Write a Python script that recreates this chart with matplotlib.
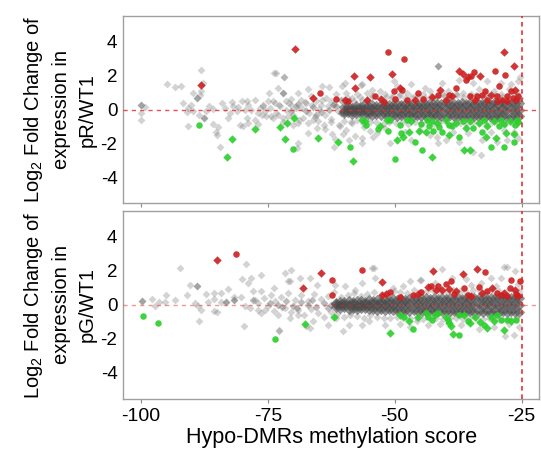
import numpy as np
import matplotlib
matplotlib.use("Agg")
import matplotlib.pyplot as plt

plt.rcParams['font.family'] = ['Liberation Sans', 'DejaVu Sans']
plt.rcParams['mathtext.fontset'] = 'custom'
plt.rcParams['mathtext.rm'] = 'Liberation Sans'
plt.rcParams['mathtext.it'] = 'Liberation Sans'
plt.rcParams['axes.unicode_minus'] = False

# ---------------- data ----------------
x_ticks = [-100, -75, -50, -25]
y_ticks = [4, 2, 0, -2, -4]
x_label = "Hypo-DMRs methylation score"
y_labels = ["Log$_2$ Fold Change of\nexpression in\npR/WT1",
            "Log$_2$ Fold Change of\nexpression in\npG/WT1"]
threshold_x = -25

# ---- panel 1 (pR/WT1) ----
p1_gray = [(-99.9,0.29),(-99.9,-0.2),(-100,-0.6),(-99.1,0.16),(-94.8,1.53),(-93.2,1.33),(-92.0,1.37),
 (-88.1,2.33),(-87.7,1.55),(-89.7,0.96),(-89.0,0.67),(-88.4,0.86),(-88.1,1.12),(-91.7,0.41),(-90.7,0.1),
 (-90.2,0.29),(-89.7,-0.1),(-91.0,-0.16),(-87.5,-0.49),(-90.7,-0.94),(-85.7,0.06),(-84.1,0.37),(-85.7,-0.86),
 (-84.8,-1.0),(-85.1,-1.31),(-84.9,-1.47),(-84.4,-2.2),(-82.4,-0.2),(-82.1,0.43),(-82.8,-0.49),(-81.1,-0.1),
 (-80.1,0.49),(-79.1,0.49),(-79.5,0.0),(-79.0,-0.49),(-80.5,-0.88),(-79.8,-0.98),(-78.3,0.0),(-77.5,0.59),
 (-88.6,-0.3),(-87.2,-0.05),(-86.5,0.2),(-83.5,0.1),(-81.8,0.2),(-80.8,0.15),(-78.8,0.3),(-77.0,-0.2),
 (-76.5,0.1),(-76.0,0.3),(-75.5,-0.1),(-75.0,0.5),(-77.0,-0.86),(-74.3,-0.35),(-76.1,-0.3),(-78.9,-0.79),
 (-77.5,-0.59),(-73.7,2.16),(-71.8,1.92),(-74.7,0.96),(-72.0,0.96),(-72.9,1.25),(-69.0,0.96),(-67.1,1.2),
 (-64.4,1.37),(-63.0,1.33),(-60.3,1.41),(-56.6,1.47),(-54.5,1.18),(-70.4,0.61),(-73.4,2.18),(-71.9,1.94),
 (-73.5,0.4),(-72.5,0.2),(-71.5,0.5),(-70.5,0.3),(-69.5,0.1),(-68.5,0.6),(-67.5,0.4),(-66.5,0.8),(-65.5,0.5),
 (-64.5,0.3),(-63.5,0.7),(-62.5,0.5),(-61.5,0.9),(-60.5,0.6),(-59.5,1.0),(-58.5,0.7),(-57.5,0.9),(-56.5,0.6),
 (-55.5,1.0),(-54.5,0.8),(-74.0,-0.5),(-73.0,-0.3),(-72.0,-0.7),(-71.0,-0.4),(-70.0,-0.9),(-69.0,-0.76),
 (-68.0,-0.5),(-67.0,-0.8),(-66.0,-0.6),(-65.1,-0.67),(-64.0,-0.9),(-63.8,-1.16),(-62.5,-0.7),(-61.8,-1.75),
 (-61.0,-0.9),(-60.1,-1.45),(-60.8,-0.96),(-59.5,-1.2),(-58.5,-0.8),(-57.8,-1.55),(-56.5,-1.67),(-56.0,-1.0),
 (-54.9,-1.24),(-62.4,-1.45),(-69.0,-1.94),(-67.1,-1.35),(-65.4,-1.06),(-69.3,-2.28),(-62.0,-2.18),
 (-59.1,-1.78),(-56.4,-1.98),(-50.9,-1.98),(-53.5,-1.4),(-52.0,-1.1),(-59.8,1.58),(-56.4,1.49),(-53.0,1.09),
 (-50.2,1.68),(-49.6,1.39),(-46.8,1.49),(-44.1,1.29),(-40.7,1.58),(-37.3,1.78),(-34.6,1.58),(-31.8,1.68),
 (-29.1,1.58),(-27.1,1.49),(-25.7,1.68),(-41.4,2.57),(-25.3,1.9),(-52.0,0.9),(-50.5,0.8),(-49.0,0.9),
 (-47.5,1.0),(-46.0,0.8),(-44.5,0.9),(-43.0,1.1),(-42.0,0.7),(-40.5,0.9),(-39.5,1.1),(-38.0,0.9),(-36.5,1.0),
 (-35.0,0.9),(-33.5,1.2),(-32.0,0.9),(-30.5,1.1),(-29.0,0.9),(-27.5,1.2),(-26.0,1.0),(-54.3,-1.58),
 (-46.8,-1.78),(-41.7,-1.58),(-40.0,-1.78),(-37.3,-1.88),(-32.9,-1.78),(-29.8,-1.88),(-27.8,-1.78),
 (-25.7,-1.68),(-41.4,-1.98),(-34.6,-2.48),(-33.1,-2.67),(-48.0,-1.3),(-45.0,-1.2),(-43.0,-1.5),(-38.5,-1.3),
 (-35.5,-1.4),(-31.0,-1.3),(-28.5,-1.2),(-26.5,-1.3),
 (-76,0.2),(-75.3,-0.4),(-74.6,0.1),(-74,0.5),(-73.3,-0.2),(-72.7,0.3),(-72,-0.5),(-71.4,0.0),(-70.8,0.4),
 (-70.1,-0.3),(-69.5,0.2),(-68.8,-0.6),(-68.2,0.1),(-67.6,0.45),(-66.9,-0.2),(-66.3,0.3),(-65.7,-0.45),
 (-65,0.05),(-64.4,0.55),(-63.8,-0.3),(-63.1,0.2),(-62.5,-0.55),(-61.9,0.35),(-61.2,-0.1),(-60.6,0.6),
 (-60,-0.65),(-59.3,0.7),(-58.7,-0.7),(-58.1,0.5),(-57.4,-0.6),(-56.8,0.75),(-56.2,-0.8),(-55.5,0.6),
 (-54.9,-0.7),(-54.3,0.8),(-53.6,-0.75),(-53,0.65),(-52.4,-0.85),(-51.7,0.75),(-51.1,-0.7),(-50.5,0.7),
 (-49.8,-0.8),(-49.2,0.8),(-48.6,-0.75),(-47.9,0.7),(-47.3,-0.85),(-46.7,0.75),(-46,-0.7),(-45.4,0.8),
 (-44.8,-0.8),(-44.1,0.7),(-43.5,-0.75),(-42.9,0.8),(-42.2,-0.85),(-41.6,0.75),(-41,-0.7),(-40.3,0.8),
 (-39.7,-0.8),(-39.1,0.7),(-38.4,-0.75),(-37.8,0.85),(-37.2,-0.8),(-36.5,0.75),(-35.9,-0.85),(-35.3,0.8),
 (-34.6,-0.75),(-34,0.85),(-33.4,-0.8),(-32.7,0.75),(-32.1,-0.85),(-31.5,0.8),(-30.8,-0.75),(-30.2,0.85),
 (-29.6,-0.8),(-28.9,0.75),(-28.3,-0.85),(-27.7,0.8),(-27,-0.8),(-26.4,0.85),(-25.8,-0.75),(-25.3,0.7)]
p1_midgray = [(-99.9,0.29),(-87.5,-0.49),(-89.0,0.67),(-72.0,0.96),(-70.5,-0.05),(-69,0.35),(-67.5,-0.1),
 (-66,0.15),(-64.5,-0.15),(-63,0.0),(-61.5,0.2),(-60.5,-0.2),(-65.5,-0.3),(-62.2,0.3),(-41.4,2.57)]
p1_core_x = [-60.0,-59.2,-58.4,-57.6,-56.8,-56.0,-55.2,-54.4,-53.6,-52.8,-52.0,-51.2,-50.4,-49.6,-48.8,
 -48.0,-47.2,-46.4,-45.6,-44.8,-44.0,-43.2,-42.4,-41.6,-40.8,-40.0,-39.2,-38.4,-37.6,-36.8,-36.0,-35.2,
 -34.4,-33.6,-32.8,-32.0,-31.2,-30.4,-29.6,-28.8,-28.0,-27.2,-26.4,-25.6]
p1_core_top = [0.15,0.2,0.12,0.22,0.18,0.25,0.2,0.28,0.22,0.3,0.25,0.3,0.27,0.33,0.28,0.32,0.3,0.35,0.3,
 0.34,0.32,0.36,0.31,0.35,0.33,0.37,0.32,0.36,0.34,0.38,0.33,0.37,0.35,0.38,0.34,0.38,0.36,0.39,0.35,0.38,
 0.36,0.4,0.37,0.38]
p1_core_mid = [-0.05,0.02,-0.08,0.05,-0.02,0.03,-0.06,0.04,-0.03,0.06,-0.04,0.02,0.05,-0.05,0.03,-0.02,
 0.04,-0.06,0.02,0.05,-0.03,0.04,-0.05,0.03,0.0,0.05,-0.04,0.02,-0.02,0.04,-0.03,0.05,0.0,-0.04,0.03,0.01,
 -0.02,0.04,-0.05,0.02,0.0,0.03,-0.02,0.01]
p1_core_bot = [-0.2,-0.15,-0.25,-0.18,-0.22,-0.28,-0.24,-0.3,-0.26,-0.32,-0.28,-0.33,-0.3,-0.35,-0.31,
 -0.34,-0.33,-0.37,-0.32,-0.36,-0.34,-0.38,-0.33,-0.37,-0.35,-0.39,-0.34,-0.37,-0.36,-0.4,-0.35,-0.38,
 -0.37,-0.4,-0.36,-0.39,-0.38,-0.41,-0.37,-0.4,-0.38,-0.42,-0.39,-0.4]
p1_red_dia = [(-88.2,1.47),(-69.7,3.57),(-66.0,0.67),(-59.8,0.59),(-58.0,2.0),(-57.9,1.29),(-55.5,0.59),
 (-54.9,1.92),(-52.7,0.65),(-50.6,2.12),(-48.9,1.27),(-46.1,0.59),(-42.7,0.75),(-41.0,1.18),(-38.7,0.78),
 (-37.3,2.31),(-36.6,2.12),(-35.6,1.92),(-33.2,1.96),(-31.1,0.88),(-28.4,3.43),(-26.6,2.59),(-26.4,1.14),
 (-34.2,0.59),(-29.8,0.49),(-27.8,0.49),(-40.0,0.59)]
p1_red_circ = [(-64.7,0.98),(-61.5,0.65),(-59.2,0.5),(-53.8,0.78),(-52.1,0.45),(-51.3,3.43),(-49.9,0.65),
 (-50.1,1.08),(-48.5,1.14),(-48.2,2.98),(-47.5,0.59),(-45.5,0.98),(-44.4,0.65),(-41.4,0.88),(-39.3,0.88),
 (-38.0,1.27),(-35.9,1.76),(-34.9,2.0),(-34.4,2.25),(-33.9,0.78),(-32.2,1.08),(-30.3,2.31),(-29.4,1.37),
 (-28.3,2.06),(-27.1,1.08),(-35.2,0.78),(-32.9,0.88),(-29.8,0.78),(-28.8,0.59),(-27.8,0.78),(-25.7,0.78),
 (-26.1,0.59),(-31.8,0.59),(-26.8,0.69)]
p1_green_dia = [(-82.1,-1.74),(-83.0,-2.77),(-77.6,-1.13),(-72.5,-1.03),(-71.2,-0.77),(-71.7,-1.74),
 (-69.9,-0.51),(-65.2,-1.68),(-61.1,-1.9),(-58.3,-3.05),(-56.4,-0.59),(-55.8,-0.69),(-53.0,-0.95),
 (-51.6,-0.59),(-49.6,-1.78),(-48.3,-1.58),(-47.2,-1.31),(-45.3,-1.23),(-43.9,-1.29),(-42.6,-2.77),
 (-41.7,-0.79),(-39.3,-1.49),(-38.0,-0.79),(-36.3,-2.38),(-35.1,-2.38),(-33.5,-0.79),(-32.0,-1.58),
 (-30.1,-1.68),(-28.0,-1.39),(-26.6,-1.45),(-25.7,-0.75),(-46.8,-0.69),(-40.0,-0.63),(-35.2,-0.69),
 (-30.4,-0.69),(-27.4,-0.69),(-31.8,-0.99),(-35.9,-1.09)]
p1_green_circ = [(-88.5,-0.91),(-70.0,-2.34),(-58.8,-2.18),(-55.6,-0.89),(-53.3,-1.15),(-51.3,-1.23),
 (-50.0,-2.93),(-49.0,-0.91),(-48.7,-1.35),(-47.6,-0.59),(-46.1,-1.88),(-44.8,-0.83),(-44.6,-2.38),
 (-43.6,-0.59),(-42.5,-1.23),(-40.7,-1.29),(-38.7,-0.99),(-37.3,-1.58),(-34.6,-1.09),(-32.9,-1.29),
 (-31.1,-2.18),(-29.4,-0.99),(-28.4,-2.18),(-26.5,-1.88),(-26.3,-0.89),(-50.9,-0.6),(-42.7,-0.69),
 (-36.6,-0.69),(-32.5,-0.63),(-29.1,-0.63),(-26.0,-0.59),(-39.3,-0.89),(-41.3,-1.03),(-43.2,-0.99),
 (-28.4,-0.83)]

# ---- panel 2 (pG/WT1) ----
p2_gray = [(-99.8,0.24),(-97.8,0.35),(-97.2,-0.1),(-96.5,0.16),(-95.0,0.55),(-95.2,0.16),(-93.2,0.29),
 (-92.3,2.17),(-91.0,0.55),(-90.4,1.14),(-88.9,1.08),(-89.3,0.1),(-88.8,-0.1),(-88.1,-0.29),(-88.6,-0.98),
 (-87.1,0.63),(-86.8,0.16),(-85.6,0.69),(-85.5,0.35),(-85.5,-0.35),(-84.9,-0.43),(-84.2,0.69),(-84.2,0.16),
 (-83.2,0.16),(-82.9,0.94),(-81.6,0.43),(-81.6,0.29),(-80.2,0.43),(-79.7,-1.27),(-79.2,2.41),(-80.1,1.49),
 (-78.9,1.29),(-78.4,1.57),(-77.9,0.78),(-79.5,-0.1),(-78.5,-0.2),(-77.5,0.3),(-70.4,2.02),(-76.3,1.76),
 (-72.8,-1.47),(-71.7,1.86),(-71.0,1.4),(-68.7,1.57),(-66.7,1.57),(-67.4,-1.27),(-70.7,1.37),(-65.4,1.18),
 (-61.8,1.18),(-59.8,1.08),(-57.8,0.88),(-56.5,1.27),(-54.5,2.16),(-53.9,1.57),(-76.3,0.78),(-73.7,0.98),
 (-77.0,-0.29),(-75.5,-0.3),(-73.7,-0.39),(-72.8,-1.53),(-70.7,-0.78),(-69.0,-0.59),(-66.7,-1.37),
 (-63.1,-1.18),(-60.1,-1.53),(-59.1,-1.18),(-56.5,-1.18),(-55.0,-0.98),(-58.9,-0.59),(-61.5,-0.78),
 (-66.1,-0.98),(-40.7,2.12),(-38.7,1.57),(-36.0,1.53),(-31.1,1.57),(-27.9,2.2),(-26.4,1.96),(-29.1,1.57),
 (-47.0,1.37),(-45.0,1.47),(-48.3,1.08),(-50.3,0.98),(-35.0,1.18),(-26.5,-1.76),(-45.6,-0.98),(-28.4,2.23),
 (-44.8,1.48),(-54.0,2.17),(-28.3,-1.83),(-42.0,1.3),(-33.0,1.3),(-30.0,1.1),(-25.8,1.2),(-52.0,-1.2),
 (-49.0,-1.1),(-47.0,-1.3),(-43.5,-1.2),(-41.0,-1.1),(-37.0,-1.2),(-33.5,-1.4),(-30.5,-1.3),(-27.5,-1.1),
 (-25.5,-1.3),
 (-77,0.1),(-76.3,-0.5),(-75.7,0.4),(-75,-0.1),(-74.3,0.6),(-73.6,0.2),(-73,-0.6),(-72.3,0.45),(-71.7,-0.2),
 (-71,0.7),(-70.4,-0.45),(-69.7,0.3),(-69.1,-0.3),(-68.4,0.55),(-67.8,-0.6),(-67.1,0.2),(-66.5,-0.25),
 (-65.8,0.65),(-65.2,-0.5),(-64.5,0.35),(-63.9,-0.7),(-63.2,0.5),(-62.6,-0.4),(-61.9,0.75),(-61.3,-0.55),
 (-60.6,0.45),(-60,-0.7),(-59.3,0.6),(-58.7,-0.45),(-58,0.7),(-57.4,-0.65),(-56.7,0.5),(-56.1,-0.75),
 (-55.4,0.65),(-54.8,-0.6),(-54.1,0.75),(-53.5,-0.7),(-52.8,0.6),(-52.2,-0.8),(-51.5,0.7),(-50.9,-0.75),
 (-50.2,0.8),(-49.6,-0.7),(-48.9,0.75),(-48.3,-0.8),(-47.6,0.7),(-47,-0.75),(-46.3,0.85),(-45.7,-0.8),
 (-45,0.75),(-44.4,-0.85),(-43.7,0.8),(-43.1,-0.75),(-42.4,0.85),(-41.8,-0.8),(-41.1,0.8),(-40.5,-0.85),
 (-39.8,0.75),(-39.2,-0.8),(-38.5,0.85),(-37.9,-0.75),(-37.2,0.8),(-36.6,-0.85),(-35.9,0.75),(-35.3,-0.8),
 (-34.6,0.85),(-34,-0.75),(-33.3,0.8),(-32.7,-0.85),(-32,0.75),(-31.4,-0.8),(-30.7,0.85),(-30.1,-0.75),
 (-29.4,0.8),(-28.8,-0.85),(-28.1,0.75),(-27.5,-0.8),(-26.8,0.85),(-26.2,-0.75),(-25.5,0.8)]
p2_midgray = [(-99.8,0.24),(-88.9,1.08),(-83.2,0.16),(-81.6,0.29),(-78.0,0.25),(-74.5,0.1),(-73,0.0),
 (-71.5,0.2),(-70,-0.1),(-68.5,0.15),(-67,0.0),(-65.5,-0.15),(-64,0.1),(-62.5,0.0),(-63.2,-0.2),
 (-66.2,0.25),(-69.2,-0.2),(-72.2,-0.15)]
p2_core_x = [-61.5,-60.7,-59.9,-59.1,-58.3,-57.5,-56.7,-55.9,-55.1,-54.3,-53.5,-52.7,-51.9,-51.1,-50.3,
 -49.5,-48.7,-47.9,-47.1,-46.3,-45.5,-44.7,-43.9,-43.1,-42.3,-41.5,-40.7,-39.9,-39.1,-38.3,-37.5,-36.7,
 -35.9,-35.1,-34.3,-33.5,-32.7,-31.9,-31.1,-30.3,-29.5,-28.7,-27.9,-27.1,-26.3,-25.5]
p2_core_top = [0.12,0.18,0.15,0.22,0.17,0.24,0.2,0.18,0.25,0.2,0.27,0.24,0.3,0.26,0.32,0.28,0.33,0.3,0.35,
 0.31,0.36,0.33,0.37,0.32,0.38,0.35,0.37,0.34,0.39,0.36,0.38,0.35,0.4,0.36,0.39,0.37,0.4,0.36,0.41,0.38,
 0.4,0.37,0.41,0.39,0.42,0.4]
p2_core_mid = [0.02,-0.04,0.05,-0.02,0.03,-0.05,0.0,0.04,-0.03,0.02,-0.01,0.05,-0.04,0.03,0.0,-0.03,0.04,
 -0.02,0.05,-0.04,0.02,0.0,-0.03,0.04,-0.01,0.03,-0.04,0.02,0.05,-0.02,0.01,-0.03,0.04,0.0,-0.02,0.03,
 -0.04,0.02,0.0,0.04,-0.03,0.01,0.03,-0.02,0.02,0.0]
p2_core_bot = [-0.15,-0.2,-0.14,-0.22,-0.18,-0.25,-0.2,-0.17,-0.26,-0.22,-0.28,-0.24,-0.3,-0.27,-0.32,
 -0.29,-0.34,-0.31,-0.35,-0.32,-0.36,-0.34,-0.38,-0.33,-0.37,-0.35,-0.39,-0.36,-0.38,-0.35,-0.4,-0.37,
 -0.39,-0.36,-0.41,-0.38,-0.4,-0.37,-0.41,-0.39,-0.42,-0.38,-0.4,-0.39,-0.42,-0.4]
p2_red_dia = [(-84.9,2.62),(-68.1,0.99),(-64.6,1.87),(-52.6,1.34),(-52.6,0.59),(-51.7,0.65),(-45.5,0.65),
 (-43.4,1.04),(-42.4,1.97),(-40.7,0.85),(-39.3,0.93),(-38.0,0.79),(-36.6,1.83),(-33.9,2.07),(-32.9,0.69),
 (-30.8,0.99),(-28.4,0.69),(-26.4,0.89),(-25.7,0.49),(-34.9,0.49),(-41.9,0.89)]
p2_red_circ = [(-81.3,2.96),(-62.4,1.44),(-62.4,0.59),(-56.4,2.03),(-50.9,0.73),(-48.9,0.45),(-46.5,0.59),
 (-44.8,0.73),(-42.9,1.12),(-41.4,1.12),(-40.0,1.24),(-39.0,1.38),(-38.3,0.65),(-36.3,0.99),(-35.6,0.59),
 (-33.5,1.04),(-32.2,1.91),(-31.8,0.79),(-29.8,0.69),(-27.4,0.99),(-27.1,1.48),(-26.1,0.65),(-25.4,1.38),
 (-27.8,0.49),(-29.1,0.59)]
p2_green_dia = [(-67.6,-1.14),(-62.0,-0.73),(-50.9,-1.64),(-48.9,-0.59),(-47.2,-0.93),(-45.5,-0.73),
 (-43.8,-0.49),(-42.1,-0.59),(-40.0,-0.73),(-39.3,-1.08),(-38.5,-1.71),(-36.3,-0.59),(-35.2,-1.08),
 (-33.2,-0.99),(-31.8,-1.38),(-30.4,-0.93),(-28.4,-1.48),(-27.1,-0.93),(-34.2,-0.73),(-39.0,-1.24)]
p2_green_circ = [(-99.6,-0.65),(-96.6,-1.08),(-73.6,-2.03),(-48.2,-0.69),(-46.5,-1.44),(-43.4,-0.69),
 (-42.7,-0.89),(-41.4,-0.49),(-39.6,-0.89),(-37.4,-0.59),(-37.3,-1.77),(-35.6,-0.93),(-32.5,-1.18),
 (-31.1,-0.73),(-29.8,-0.59),(-29.1,-0.89),(-27.8,-0.89),(-26.1,-0.89)]

# ---------------- drawing ----------------
RED = '#cc1f1f'
GREEN = '#2bcf2b'
DIA_S = 16
CIRC_S = 22

fig = plt.figure(figsize=(5.41, 4.57), dpi=100)
ax1 = fig.add_axes([0.2274, 0.5558, 0.7698, 0.4083])
ax2 = fig.add_axes([0.2274, 0.1280, 0.7698, 0.4103])

def xy(pts):
    a = np.array(pts, dtype=float)
    return a[:, 0], a[:, 1]

panels = [
    (ax1, p1_gray, p1_midgray, p1_core_x, (p1_core_top, p1_core_mid, p1_core_bot),
     p1_red_dia, p1_red_circ, p1_green_dia, p1_green_circ, 0.85),
    (ax2, p2_gray, p2_midgray, p2_core_x, (p2_core_top, p2_core_mid, p2_core_bot),
     p2_red_dia, p2_red_circ, p2_green_dia, p2_green_circ, 0.5),
]

for i, (ax, gray, midg, cx, crows, rd, rc, gd, gc, hl_alpha) in enumerate(panels):
    gx, gy = xy(gray)
    ax.scatter(gx, gy, marker='D', s=DIA_S, color='#7a7a7a', alpha=0.33, linewidths=0, zorder=1)
    mx, my = xy(midg)
    ax.scatter(mx, my, marker='D', s=DIA_S, color='#6a6a6a', alpha=0.45, linewidths=0, zorder=1.5)
    for row in crows:
        ax.scatter(cx, row, marker='D', s=34, color='#4a4a4a', alpha=0.58,
                   linewidths=0, zorder=2)
    for pts, mk, col, s in [(rd, 'D', RED, DIA_S * 1.15), (rc, 'o', RED, CIRC_S),
                            (gd, 'D', GREEN, DIA_S * 1.15), (gc, 'o', GREEN, CIRC_S)]:
        px, py = xy(pts)
        ax.scatter(px, py, marker=mk, s=s, color=col, alpha=0.9, linewidths=0, zorder=3)

    ax.axhline(0, color='#e03030', lw=1.0, ls=(0, (3, 3)), alpha=hl_alpha, zorder=4)
    ax.axvline(threshold_x, color='#e02020', lw=1.1, ls=(0, (3, 2.5)), zorder=4)

    ax.set_xlim(-103.5, -21.5)
    ax.set_ylim(-5.5, 5.5)
    ax.set_xticks(x_ticks)
    ax.set_yticks(y_ticks)
    ax.set_yticklabels([str(v) for v in y_ticks], fontsize=13.5)
    ax.tick_params(axis='y', length=0, pad=4)
    ax.tick_params(axis='x', length=3, color='#888888', labelsize=14, pad=4)
    for sp in ax.spines.values():
        sp.set_color('#a0a0a0')
        sp.set_linewidth(1.0)
    if i == 0:
        ax.tick_params(axis='x', labelbottom=False)
    else:
        ax.set_xticklabels([str(v) for v in x_ticks])
        ax.set_xlabel(x_label, fontsize=15.5, labelpad=1)

fig.text(0.110, 0.760, y_labels[0], rotation=90, ha='center', va='center',
         multialignment='center', fontsize=14.5, linespacing=1.45)
fig.text(0.110, 0.333, y_labels[1], rotation=90, ha='center', va='center',
         multialignment='center', fontsize=14.5, linespacing=1.45)

fig.savefig('out.png', dpi=100)
